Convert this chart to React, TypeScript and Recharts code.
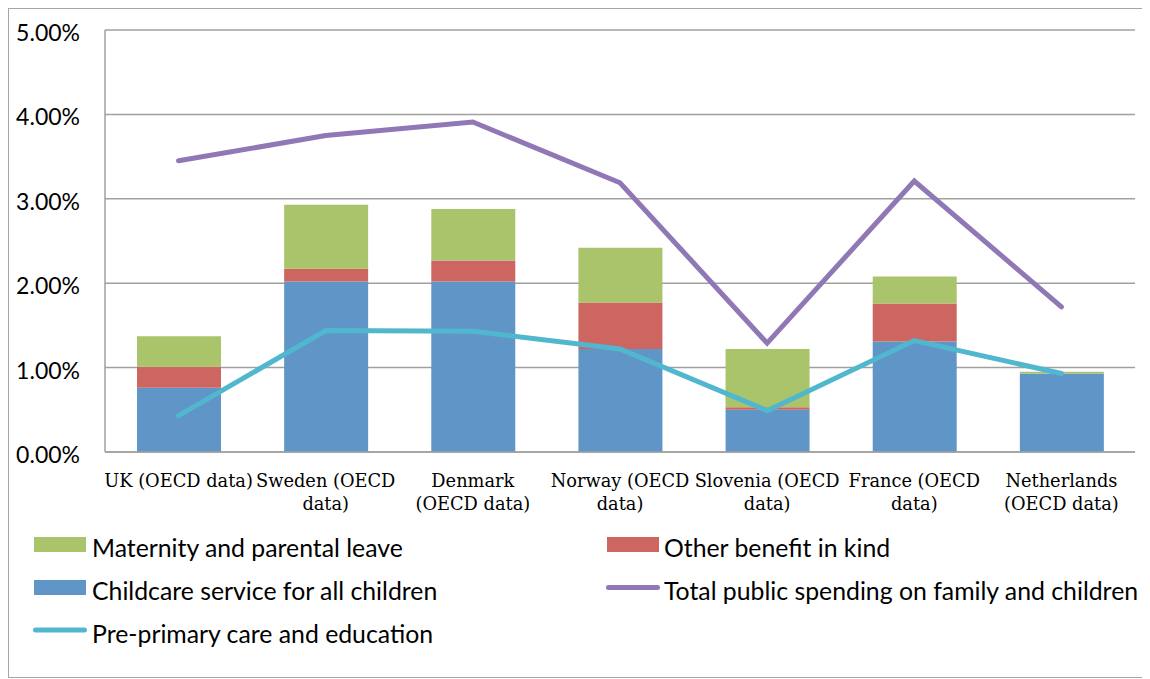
import React from "react";
import {
  ComposedChart,
  Bar,
  Line,
  XAxis,
  YAxis,
  CartesianGrid,
} from "recharts";

const categories = [
  "UK (OECD data)",
  "Sweden (OECD data)",
  "Denmark (OECD data)",
  "Norway (OECD data)",
  "Slovenia (OECD data)",
  "France (OECD data)",
  "Netherlands (OECD data)",
];

const categoryLines = [
  ["UK (OECD data)"],
  ["Sweden (OECD", "data)"],
  ["Denmark", "(OECD data)"],
  ["Norway (OECD", "data)"],
  ["Slovenia (OECD", "data)"],
  ["France (OECD", "data)"],
  ["Netherlands", "(OECD data)"],
];

const childcare = [0.76, 2.02, 2.02, 1.22, 0.5, 1.31, 0.93];
const otherBenefit = [0.25, 0.15, 0.25, 0.55, 0.03, 0.45, 0.0];
const maternity = [0.36, 0.76, 0.61, 0.65, 0.69, 0.32, 0.02];
const totalSpending = [3.45, 3.75, 3.91, 3.19, 1.29, 3.21, 1.72];
const prePrimary = [0.43, 1.44, 1.43, 1.22, 0.49, 1.32, 0.93];

const yTicks = [0, 1, 2, 3, 4, 5];

const COLORS = {
  maternity: "#AAC46C",
  other: "#CD6660",
  childcare: "#6096C7",
  total: "#8F78B5",
  pre: "#50B7CE",
};

const legendItems = [
  { name: "Maternity and parental leave", color: COLORS.maternity, type: "rect" },
  { name: "Other benefit in kind", color: COLORS.other, type: "rect" },
  { name: "Childcare service for all children", color: COLORS.childcare, type: "rect" },
  { name: "Total public spending on family and children", color: COLORS.total, type: "line" },
  { name: "Pre-primary care and education", color: COLORS.pre, type: "line" },
];

const data = categories.map((c, i) => ({
  name: c,
  childcare: childcare[i],
  other: otherBenefit[i],
  maternity: maternity[i],
  total: totalSpending[i],
  pre: prePrimary[i],
}));

const SANS = "Lato, 'Open Sans', sans-serif";
const SERIF = "'DejaVu Serif', serif";

const XTick = (props: any) => {
  const { x, y, index } = props;
  const lines = categoryLines[index] || [String(props.payload?.value ?? "")];
  return (
    <g>
      {lines.map((l: string, k: number) => (
        <text
          key={k}
          x={x}
          y={y + 35 + k * 22.5}
          textAnchor="middle"
          fontFamily={SERIF}
          fontSize={17.8}
          fill="#000"
        >
          {l}
        </text>
      ))}
    </g>
  );
};

const YTick = (props: any) => {
  const { x, y, payload } = props;
  return (
    <text
      x={x}
      y={y + 11}
      textAnchor="end"
      fontFamily={SANS}
      fontSize={23}
      fill="#000"
    >
      {Number(payload.value).toFixed(2) + "%"}
    </text>
  );
};

const Legend2 = () => {
  const rows = [535.5, 578.5, 621];
  const cols = [
    { sw: 25, tx: 83 },
    { sw: 598, tx: 655 },
  ];
  return (
    <svg
      width={1140}
      height={660}
      style={{ position: "absolute", left: 0, top: 0, overflow: "visible", pointerEvents: "none" }}
    >
      {legendItems.map((it, i) => {
        const r = rows[Math.floor(i / 2)];
        const c = cols[i % 2];
        return (
          <g key={it.name}>
            {it.type === "rect" ? (
              <rect x={c.sw} y={r - 7.5} width={52} height={15} fill={it.color} />
            ) : (
              <line
                x1={c.sw + 1.5}
                x2={c.sw + 50.5}
                y1={r}
                y2={r}
                stroke={it.color}
                strokeWidth={5}
                strokeLinecap="round"
              />
            )}
            <text
              x={c.tx}
              y={r + 12.5}
              fontFamily={SANS}
              fontSize={24.8}
              fill="#000"
            >
              {it.name}
            </text>
          </g>
        );
      })}
    </svg>
  );
};

export default function App() {
  return (
    <>
      <style>{`html,body{overflow:hidden;}`}</style>
      <div
        style={{
          position: "relative",
          width: 1142,
          height: 670,
          boxSizing: "border-box",
          borderTop: "1px solid #A6A6A6",
          borderLeft: "1px solid #A6A6A6",
          borderBottom: "1px solid #A6A6A6",
          background: "#fff",
        }}
      >
        <div style={{ position: "absolute", left: 0, top: 0 }}>
          <ComposedChart
            width={1140}
            height={530}
            data={data}
            margin={{ top: 21, right: 14, left: 0, bottom: 27 }}
          >
            <CartesianGrid
              vertical={false}
              stroke="#A0A0A0"
              strokeWidth={1.5}
            />
            <XAxis
              dataKey="name"
              height={60}
              axisLine={{ stroke: "#A0A0A0", strokeWidth: 1.5 }}
              tickLine={false}
              tickSize={0}
              tickMargin={0}
              interval={0}
              tick={<XTick />}
            />
            <YAxis
              width={96}
              domain={[0, 5]}
              ticks={yTicks}
              axisLine={{ stroke: "#A0A0A0", strokeWidth: 1.5 }}
              tickLine={false}
              tickSize={0}
              tickMargin={25}
              tick={<YTick />}
            />
            <Bar
              dataKey="childcare"
              stackId="a"
              fill={COLORS.childcare}
              barSize={84}
              isAnimationActive={false}
            />
            <Bar
              dataKey="other"
              stackId="a"
              fill={COLORS.other}
              barSize={84}
              isAnimationActive={false}
            />
            <Bar
              dataKey="maternity"
              stackId="a"
              fill={COLORS.maternity}
              barSize={84}
              isAnimationActive={false}
            />
            <Line
              dataKey="pre"
              stroke={COLORS.pre}
              strokeWidth={5}
              dot={false}
              activeDot={false}
              strokeLinecap="round"
              strokeLinejoin="miter"
              isAnimationActive={false}
            />
            <Line
              dataKey="total"
              stroke={COLORS.total}
              strokeWidth={5}
              dot={false}
              activeDot={false}
              strokeLinecap="round"
              strokeLinejoin="miter"
              isAnimationActive={false}
            />
          </ComposedChart>
        </div>
        <Legend2 />
      </div>
    </>
  );
}
